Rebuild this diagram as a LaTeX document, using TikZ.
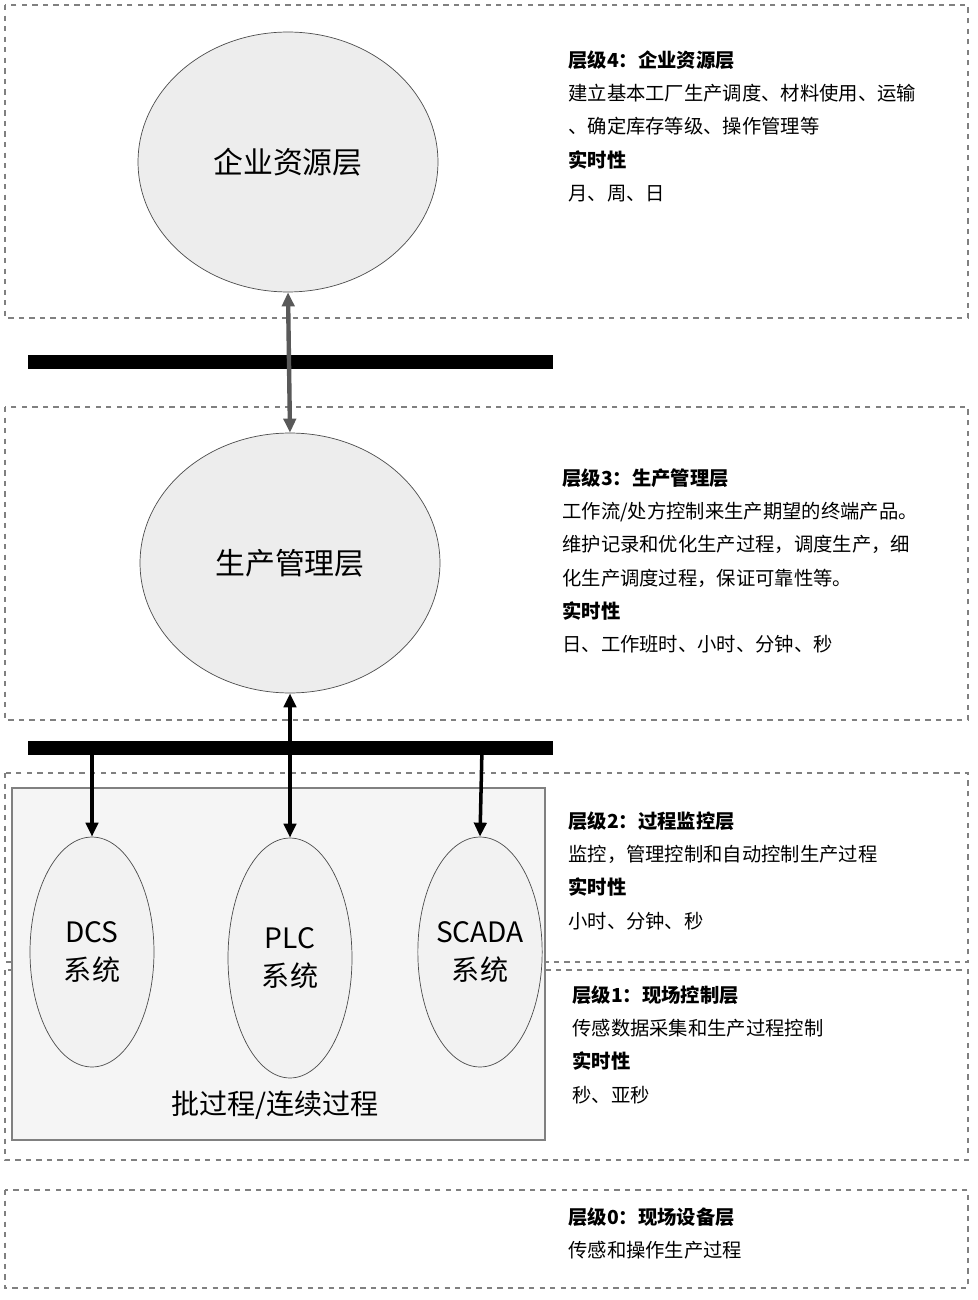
\documentclass[tikz,border=0pt]{standalone}
\usepackage{fontspec}
\setmainfont{Liberation Sans}
\newfontfamily\cjk{Noto Sans CJK SC}
\usetikzlibrary{arrows.meta,shapes.geometric}
\tikzset{
 layerbox/.style={draw=gray,dashed,thick},
 layerell/.style={draw=black!70,ellipse,fill=black!7,inner sep=0,minimum width=6cm,minimum height=5.2cm,font=\cjk\fontsize{17}{20}\selectfont},
 sysell/.style={draw=black!70,ellipse,fill=black!5,inner sep=0,minimum width=2.48cm,minimum height=4.6cm,align=center,font=\cjk\fontsize{16}{22}\selectfont},
 bus/.style={line width=8pt},
 info/.style={anchor=north west,align=left,font=\cjk\fontsize{11}{19}\selectfont,inner sep=0}
}
\begin{document}
\begin{tikzpicture}[x=0.02cm,y=-0.02cm,>={Triangle[length=8pt,width=7pt]}]
 \useasboundingbox[fill=white] (0,0) rectangle (977,1300);
 % layers
 \draw[layerbox] (5,5) rectangle (968,318);
 \draw[layerbox] (5,407) rectangle (968,720);
 \draw[layerbox] (5,773) rectangle (968,962);
 \draw[layerbox] (5,970) rectangle (968,1160);
 \draw[layerbox] (5,1190) rectangle (968,1288);
 \draw[gray,thick,fill=black!4] (12,788) rectangle (545,1140);
 % ellipses
 \node[layerell] (erp) at (288,162) {企业资源层};
 \node[layerell] (mes) at (290,563) {生产管理层};
 \node[sysell] (dcs) at (92,952) {DCS\\系统};
 \node[sysell,minimum height=4.8cm] (plc) at (290,958) {PLC\\系统};
 \node[sysell] (scada) at (480,952) {SCADA\\系统};
 \node[font=\cjk\fontsize{16}{20}\selectfont] (batch) at (275,1105) {批过程/连续过程};
 % buses
 \draw[bus] (28,362) -- (553,362);
 \draw[bus] (28,748) -- (553,748);
 \coordinate (bl) at (92,748);
 \coordinate (br) at (482,748);
 \draw[<->,black!65,line width=2.5pt] (erp.south) -- (mes.north);
 \draw[<->,line width=2pt] (plc.north) -- (mes.south);
 \draw[->,line width=2pt] (bl) -- (dcs.north);
 \draw[->,line width=2pt] (br) -- (scada.north);
 % descriptions
 \node[info] (t4) at (568,50) {\textbf{层级4：企业资源层}\\建立基本工厂生产调度、材料使用、运输\\、确定库存等级、操作管理等\\\textbf{实时性}\\月、周、日};
 \node[info] (t3) at (562,468) {\textbf{层级3：生产管理层}\\工作流/处方控制来生产期望的终端产品。\\维护记录和优化生产过程，调度生产，细\\化生产调度过程，保证可靠性等。\\\textbf{实时性}\\日、工作班时、小时、分钟、秒};
 \node[info] (t2) at (568,811) {\textbf{层级2：过程监控层}\\监控，管理控制和自动控制生产过程\\\textbf{实时性}\\小时、分钟、秒};
 \node[info] (t1) at (572,985) {\textbf{层级1：现场控制层}\\传感数据采集和生产过程控制\\\textbf{实时性}\\秒、亚秒};
 \node[info] (t0) at (568,1207) {\textbf{层级0：现场设备层}\\传感和操作生产过程};
\end{tikzpicture}
\end{document}
